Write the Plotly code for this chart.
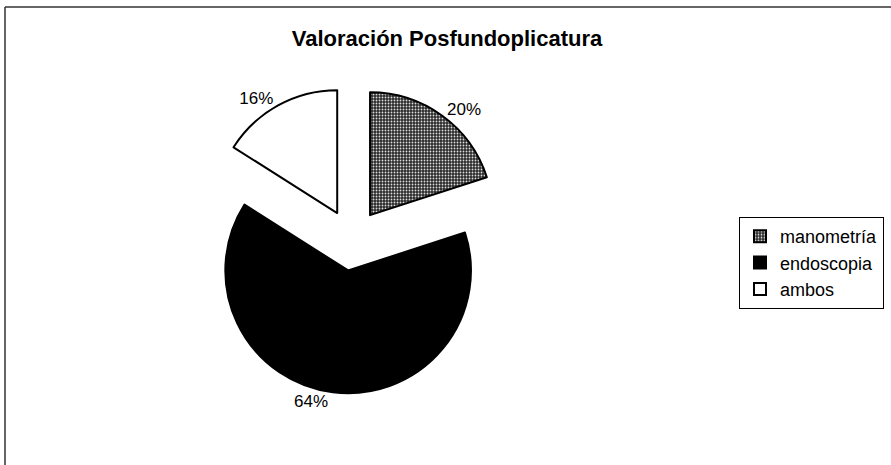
import plotly.graph_objects as go

categories = ["manometría", "endoscopia", "ambos"]
values = [20, 64, 16]
title_text = "Valoración Posfundoplicatura"

W, H = 891, 465
cx, cy = 352, 240          # pie centre in page pixels
half = 153.5               # half-size of pie domain (radius * (1 + pull))
FONT = "Arial, Liberation Sans, sans-serif"

fig = go.Figure()
fig.add_trace(go.Pie(
    labels=categories,
    values=values,
    sort=False,
    direction="clockwise",
    rotation=0,
    pull=[0.25, 0.25, 0.25],
    textinfo="percent",
    textposition="outside",
    outsidetextfont=dict(family=FONT, size=17, color="black"),
    marker=dict(
        colors=["#3c3c3c", "#000000", "#ffffff"],
        line=dict(color="black", width=2),
        pattern=dict(shape=[".", "", ""], fgcolor="#dcdcdc", bgcolor="#2a2a2a",
                     size=3, solidity=0.3, fillmode="replace"),
    ),
    domain=dict(x=[(cx - half) / W, (cx + half) / W],
                y=[(H - cy - half) / H, (H - cy + half) / H]),
))

fig.update_layout(
    width=W, height=H,
    margin=dict(l=0, r=0, t=0, b=0, autoexpand=False),
    paper_bgcolor="white",
    plot_bgcolor="white",
    font=dict(family=FONT, color="black"),
    title=dict(text=f"<b>{title_text}</b>", x=447 / W, xanchor="center",
               y=1 - 38 / H, yanchor="middle",
               font=dict(family=FONT, size=22, color="black")),
    legend=dict(x=739 / W, y=1 - 217 / H, xanchor="left", yanchor="top",
                bordercolor="black", borderwidth=1, bgcolor="white",
                font=dict(family=FONT, size=18, color="black"),
                itemwidth=30),
    shapes=[
        dict(type="line", xref="paper", yref="paper", x0=5 / W, x1=1, y0=1 - 7 / H, y1=1 - 7 / H,
             line=dict(color="#333333", width=1.5)),
        dict(type="line", xref="paper", yref="paper", x0=5 / W, x1=5 / W, y0=0, y1=1 - 7 / H,
             line=dict(color="#333333", width=1.5)),
    ],
)

fig.write_html("out.html", config={"displayModeBar": False},
               post_script="document.body.style.margin='0';")
